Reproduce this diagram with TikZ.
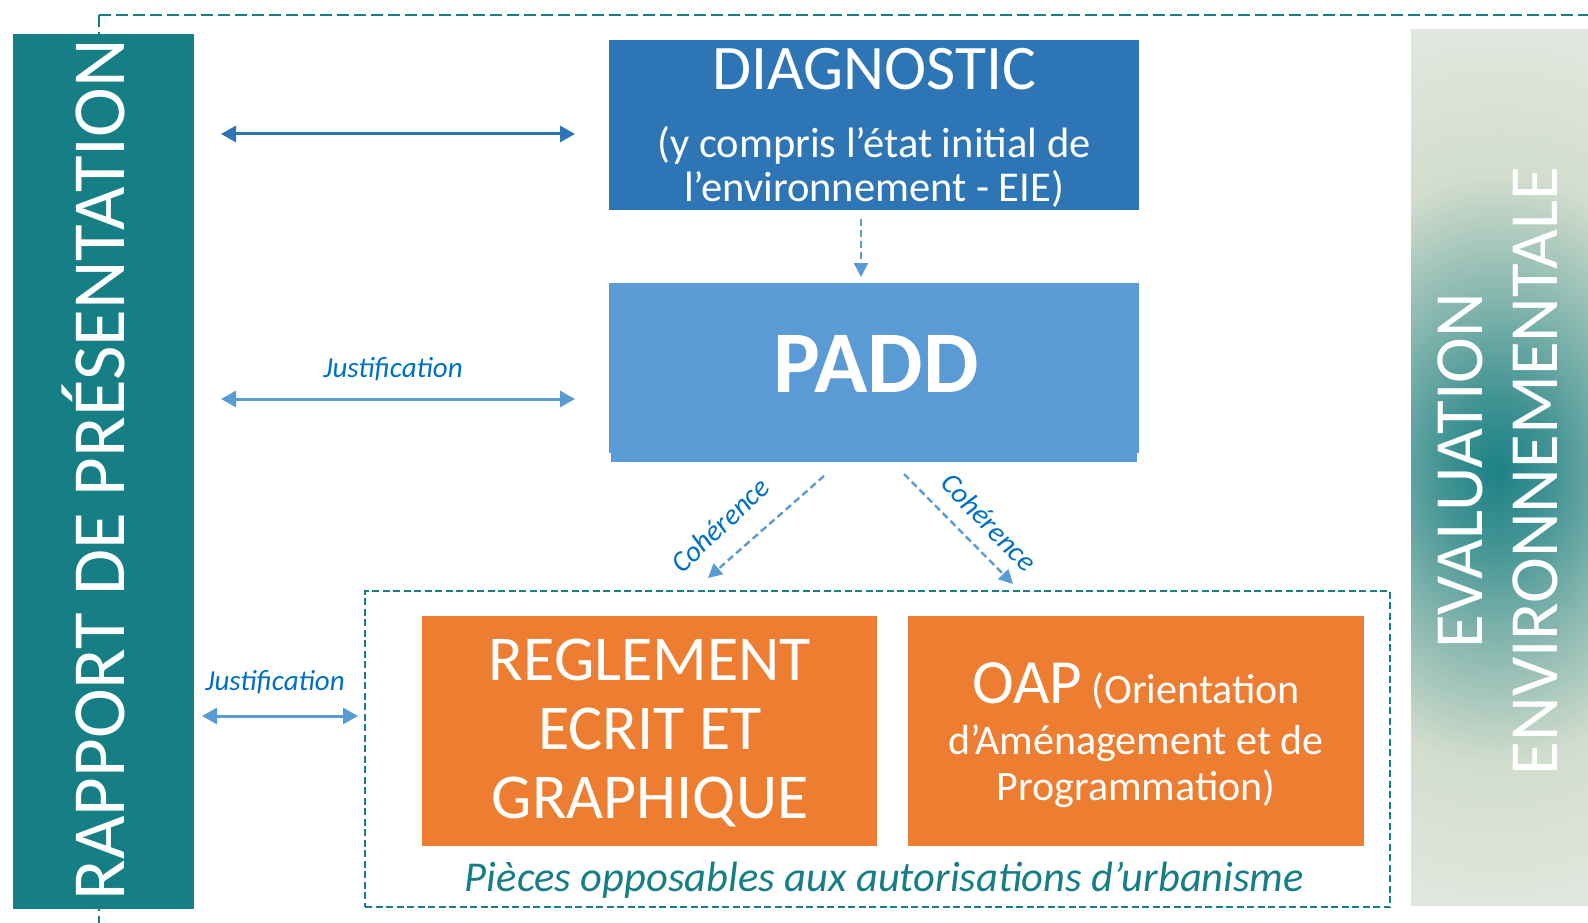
\documentclass[tikz,border=0pt]{standalone}
\usepackage{fontspec}
\setmainfont{Carlito}
\usetikzlibrary{arrows.meta}
\definecolor{rapteal}{RGB}{21,127,133}
\definecolor{diagblue}{RGB}{46,117,182}
\definecolor{paddblue}{RGB}{91,155,213}
\definecolor{reglorange}{RGB}{237,125,49}
\definecolor{lblblue}{RGB}{0,112,192}
\definecolor{evteal}{RGB}{29,129,133}
\definecolor{evpale}{RGB}{210,221,205}
\definecolor{evlight}{RGB}{226,232,224}
\pgfdeclareradialshading{evglow}{\pgfpoint{0bp}{0bp}}{color(0bp)=(evteal); color(4bp)=(evteal!80!evpale); color(9bp)=(evteal!45!evpale); color(16bp)=(evpale); color(25bp)=(evlight); color(50bp)=(evlight)}

\begin{document}
\begin{tikzpicture}[x=1pt,y=-1pt,
  box/.style={inner sep=0pt, outer sep=0pt},
  boxtext/.style={text=white, align=center, inner sep=0pt},
  dblarrow/.style={{Triangle[length=15pt,width=16pt]}-{Triangle[length=15pt,width=16pt]}, line width=3pt},
  dasharrow/.style={-{Triangle[length=14pt,width=14pt]}, dash pattern=on 7pt off 4pt, line width=2.4pt, paddblue},
  lbl/.style={font=\fontsize{29}{29}\selectfont\itshape, text=lblblue, inner sep=0pt},
  framedash/.style={draw=rapteal, dash pattern=on 7pt off 3.5pt, line width=2pt}]
  \useasboundingbox (0,0) rectangle (1588,923);
  \fill[white] (0,0) rectangle (1588,923);

  % outer dashed frame
  \coordinate (frametl) at (99,15);
  \draw[rapteal, dash pattern=on 12pt off 5pt, line width=2.6pt] (frametl) -- (1588,15);
  \draw[rapteal, dash pattern=on 12pt off 5pt, line width=2.6pt] (frametl) -- (99,923);

  % side panels
  \node[box, fill=rapteal, minimum width=181pt, minimum height=875pt] (rapport) at (103.5,471.5) {};
  \node[rotate=90, anchor=base, text=white, inner sep=0pt,
        font=\fontsize{75}{75}\selectfont] (rapporttxt) at (124,470) {RAPPORT DE PRÉSENTATION};

  \node[box, fill=evlight, minimum width=177pt, minimum height=875pt] (evalenv) at (1499.5,467.5) {};
  \begin{scope}
    \clip (evalenv.south west) rectangle (evalenv.north east);
    \shade[shading=evglow] (1497-340,470-460) rectangle (1497+340,470+460);
  \end{scope}
  \node[rotate=90, boxtext, font=\fontsize{69}{75}\selectfont] (evaltxt) at (1497.5,471)
    {EVALUATION\\ENVIRONNEMENTALE};

  % main boxes
  \node[box, fill=diagblue, minimum width=530pt, minimum height=169pt] (diag) at (874,125) {};
  \node[boxtext, font=\fontsize{42.5}{44}\selectfont] (diagtxt) at (874,128)
    {{\fontsize{63.5}{63.5}\selectfont DIAGNOSTIC}\\[24pt](y compris l’état initial de\\l’environnement - EIE)};

  \node[box, fill=paddblue, minimum width=530pt, minimum height=170pt] (padd) at (874,368) {};
  \fill[paddblue] ([xshift=2pt]padd.south west) rectangle ([xshift=-2pt,yshift=-9pt]padd.south east);
  \node[boxtext, anchor=base, font=\fontsize{88}{88}\selectfont\bfseries] (paddtxt) at (876,392) {PADD};

  \node[box, framedash, minimum width=1025pt, minimum height=316pt] (pieces) at (877.5,749) {};
  \node[box, fill=reglorange, minimum width=455pt, minimum height=230pt] (regl) at (649.5,731) {};
  \node[boxtext, font=\fontsize{64}{69}\selectfont] (regltxt) at (650,732.7)
    {REGLEMENT\\ECRIT ET\\GRAPHIQUE};
  \node[box, fill=reglorange, minimum width=456pt, minimum height=230pt] (oap) at (1136,731) {};
  \node[boxtext, font=\fontsize{42}{46}\selectfont] (oaptxt) at (1136,735)
    {{\fontsize{63}{63}\selectfont OAP} (Orientation\\[5pt]d’Aménagement et de\\Programmation)};
  \node[anchor=base, inner sep=0pt, text=rapteal, font=\fontsize{42.5}{42.5}\selectfont\itshape] (piecestxt)
    at (884.5,891) {Pièces opposables aux autorisations d’urbanisme};

  % connectors
  \coordinate (rowdiag) at (0,134);
  \coordinate (rowpadd) at (0,399);
  \coordinate (rowregl) at (0,716);
  \coordinate (midx) at (861,0);
  \draw[dblarrow, diagblue, shorten <=27pt, shorten >=34pt] (rapport.east |- rowdiag) -- (diag.west |- rowdiag);
  \draw[dblarrow, paddblue, shorten <=27pt, shorten >=34pt] (rapport.east |- rowpadd) -- (diag.west |- rowpadd);
  \draw[dblarrow, paddblue, shorten <=8pt, shorten >=7pt] (rapport.east |- rowregl) -- (pieces.west |- rowregl);
  \node[lbl, anchor=base] (just1) at (393,377) {Justification};
  \node[lbl, anchor=base] (just2) at (275,690) {Justification};

  \draw[dasharrow, shorten <=9pt, shorten >=6pt] (diag.south -| midx) -- (padd.north -| midx);

  \coordinate (cohls) at (824,476);
  \coordinate (cohle) at (708,578);
  \coordinate (cohrs) at (904,474);
  \coordinate (cohre) at (1013,584);
  \draw[dasharrow] (cohls) -- (cohle);
  \draw[dasharrow] (cohrs) -- (cohre);
  \node[lbl, rotate=43.5] (cohl) at (720,525) {Cohérence};
  \node[lbl, rotate=-46] (cohr) at (989,522) {Cohérence};
\end{tikzpicture}
\end{document}
